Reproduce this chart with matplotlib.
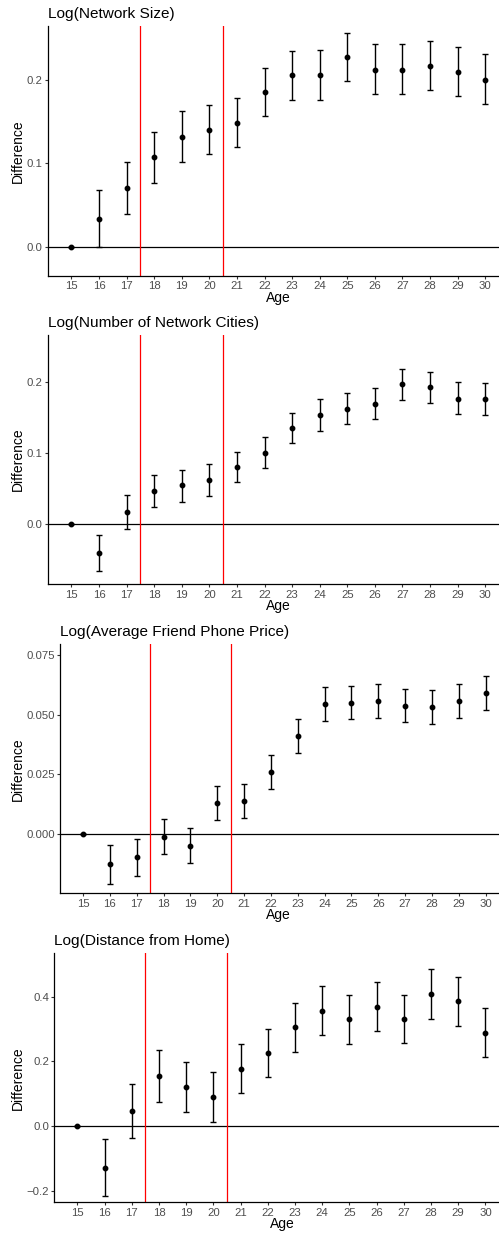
import matplotlib
matplotlib.use("Agg")
import matplotlib.pyplot as plt

plt.rcParams['font.family'] = ['Liberation Sans', 'DejaVu Sans']

# Data (estimate, lower and upper CI)
ages = list(range(15, 31))

size_est = [0, 0.034, 0.070, 0.107, 0.132, 0.140, 0.148, 0.185, 0.205, 0.206, 0.227, 0.212, 0.212, 0.216, 0.209, 0.200]
size_lo = [0, 0.000, 0.039, 0.076, 0.101, 0.111, 0.119, 0.156, 0.176, 0.176, 0.198, 0.183, 0.183, 0.187, 0.180, 0.171]
size_hi = [0, 0.068, 0.102, 0.137, 0.162, 0.170, 0.178, 0.214, 0.234, 0.235, 0.256, 0.242, 0.242, 0.246, 0.239, 0.230]

cities_est = [0, -0.042, 0.017, 0.046, 0.054, 0.061, 0.080, 0.099, 0.135, 0.153, 0.162, 0.169, 0.196, 0.192, 0.176, 0.175]
cities_lo = [0, -0.067, -0.007, 0.024, 0.031, 0.039, 0.058, 0.078, 0.113, 0.131, 0.140, 0.147, 0.174, 0.170, 0.154, 0.153]
cities_hi = [0, -0.016, 0.041, 0.069, 0.076, 0.084, 0.101, 0.122, 0.156, 0.175, 0.184, 0.191, 0.218, 0.214, 0.199, 0.198]

price_est = [0, -0.0124, -0.0096, -0.0010, -0.0047, 0.0131, 0.0139, 0.0262, 0.0410, 0.0544, 0.0550, 0.0558, 0.0537, 0.0532, 0.0558, 0.0590]
price_lo = [0, -0.0206, -0.0174, -0.0083, -0.0120, 0.0058, 0.0068, 0.0191, 0.0341, 0.0474, 0.0480, 0.0487, 0.0468, 0.0460, 0.0487, 0.0519]
price_hi = [0, -0.0043, -0.0019, 0.0065, 0.0025, 0.0202, 0.0211, 0.0333, 0.0483, 0.0615, 0.0620, 0.0629, 0.0608, 0.0602, 0.0629, 0.0662]

dist_est = [0, -0.129, 0.046, 0.155, 0.120, 0.089, 0.177, 0.225, 0.305, 0.357, 0.330, 0.368, 0.331, 0.408, 0.387, 0.289]
dist_lo = [0, -0.217, -0.037, 0.075, 0.042, 0.012, 0.102, 0.150, 0.230, 0.280, 0.255, 0.293, 0.256, 0.332, 0.310, 0.212]
dist_hi = [0, -0.041, 0.129, 0.234, 0.197, 0.166, 0.255, 0.301, 0.381, 0.432, 0.406, 0.444, 0.406, 0.485, 0.462, 0.366]

titles = ['Log(Network Size)', 'Log(Number of Network Cities)',
          'Log(Average Friend Phone Price)', 'Log(Distance from Home)']
yticks = [[0.0, 0.1, 0.2], [0.0, 0.1, 0.2],
          [0.0, 0.025, 0.05, 0.075], [-0.2, 0.0, 0.2, 0.4]]
yticklabels = [['0.0', '0.1', '0.2'], ['0.0', '0.1', '0.2'],
               ['0.000', '0.025', '0.050', '0.075'], ['\u22120.2', '0.0', '0.2', '0.4']]
ylims = [(-0.0346, 0.264), (-0.0854, 0.266), (-0.0246, 0.0793), (-0.236, 0.534)]
cutoffs = [17.5, 20.5]

W, H = 499, 1234
fig = plt.figure(figsize=(W / 100, H / 100), dpi=100)

# panel boxes in pixels: left, top, right, bottom
boxes = [(48, 26, 499, 276), (48, 334.7, 499, 584.3),
         (60.3, 644.3, 499, 893.3), (54.3, 953.3, 499, 1202.3)]
age_x = [278, 278, 278, 282]

series = [(size_est, size_lo, size_hi), (cities_est, cities_lo, cities_hi),
          (price_est, price_lo, price_hi), (dist_est, dist_lo, dist_hi)]

for i, (l, t, r, b) in enumerate(boxes):
    ax = fig.add_axes([l / W, 1 - b / H, (r - l) / W, (b - t) / H])
    est, lo, hi = series[i]
    err = [[e - a for e, a in zip(est, lo)], [c - e for e, c in zip(est, hi)]]

    ax.axhline(0, color='black', lw=0.9, zorder=1)
    for c in cutoffs:
        ax.axvline(c, color='red', lw=0.9, zorder=1)
    ax.errorbar(ages, est, yerr=err, fmt='o', color='black', ms=3.2,
                elinewidth=1.0, capsize=2.4, capthick=1.0, zorder=3)

    ax.set_xlim(14.15, 30.5)
    ax.set_ylim(*ylims[i])
    ax.set_xticks(ages)
    ax.set_xticklabels([str(a) for a in ages])
    ax.set_yticks(yticks[i])
    ax.set_yticklabels(yticklabels[i])
    ax.tick_params(length=2.4, width=0.8, color='#333333', labelcolor='#4d4d4d',
                   labelsize=8.2, pad=1.5)
    for s in ['top', 'right']:
        ax.spines[s].set_visible(False)
    for s in ['left', 'bottom']:
        ax.spines[s].set_linewidth(0.9)
        ax.spines[s].set_color('black')

    ax.annotate(titles[i], xy=(0, 1), xycoords='axes fraction',
                xytext=(0, 5.8), textcoords='offset points',
                ha='left', va='baseline', fontsize=11.1, color='black')
    fig.text(18 / W, 1 - ((t + b) / 2) / H, 'Difference', rotation=90,
             ha='center', va='center', fontsize=10.0)
    fig.text(age_x[i] / W, 1 - (b + 22) / H, 'Age',
             ha='center', va='center', fontsize=10.0)

fig.savefig('out.png', dpi=100)
